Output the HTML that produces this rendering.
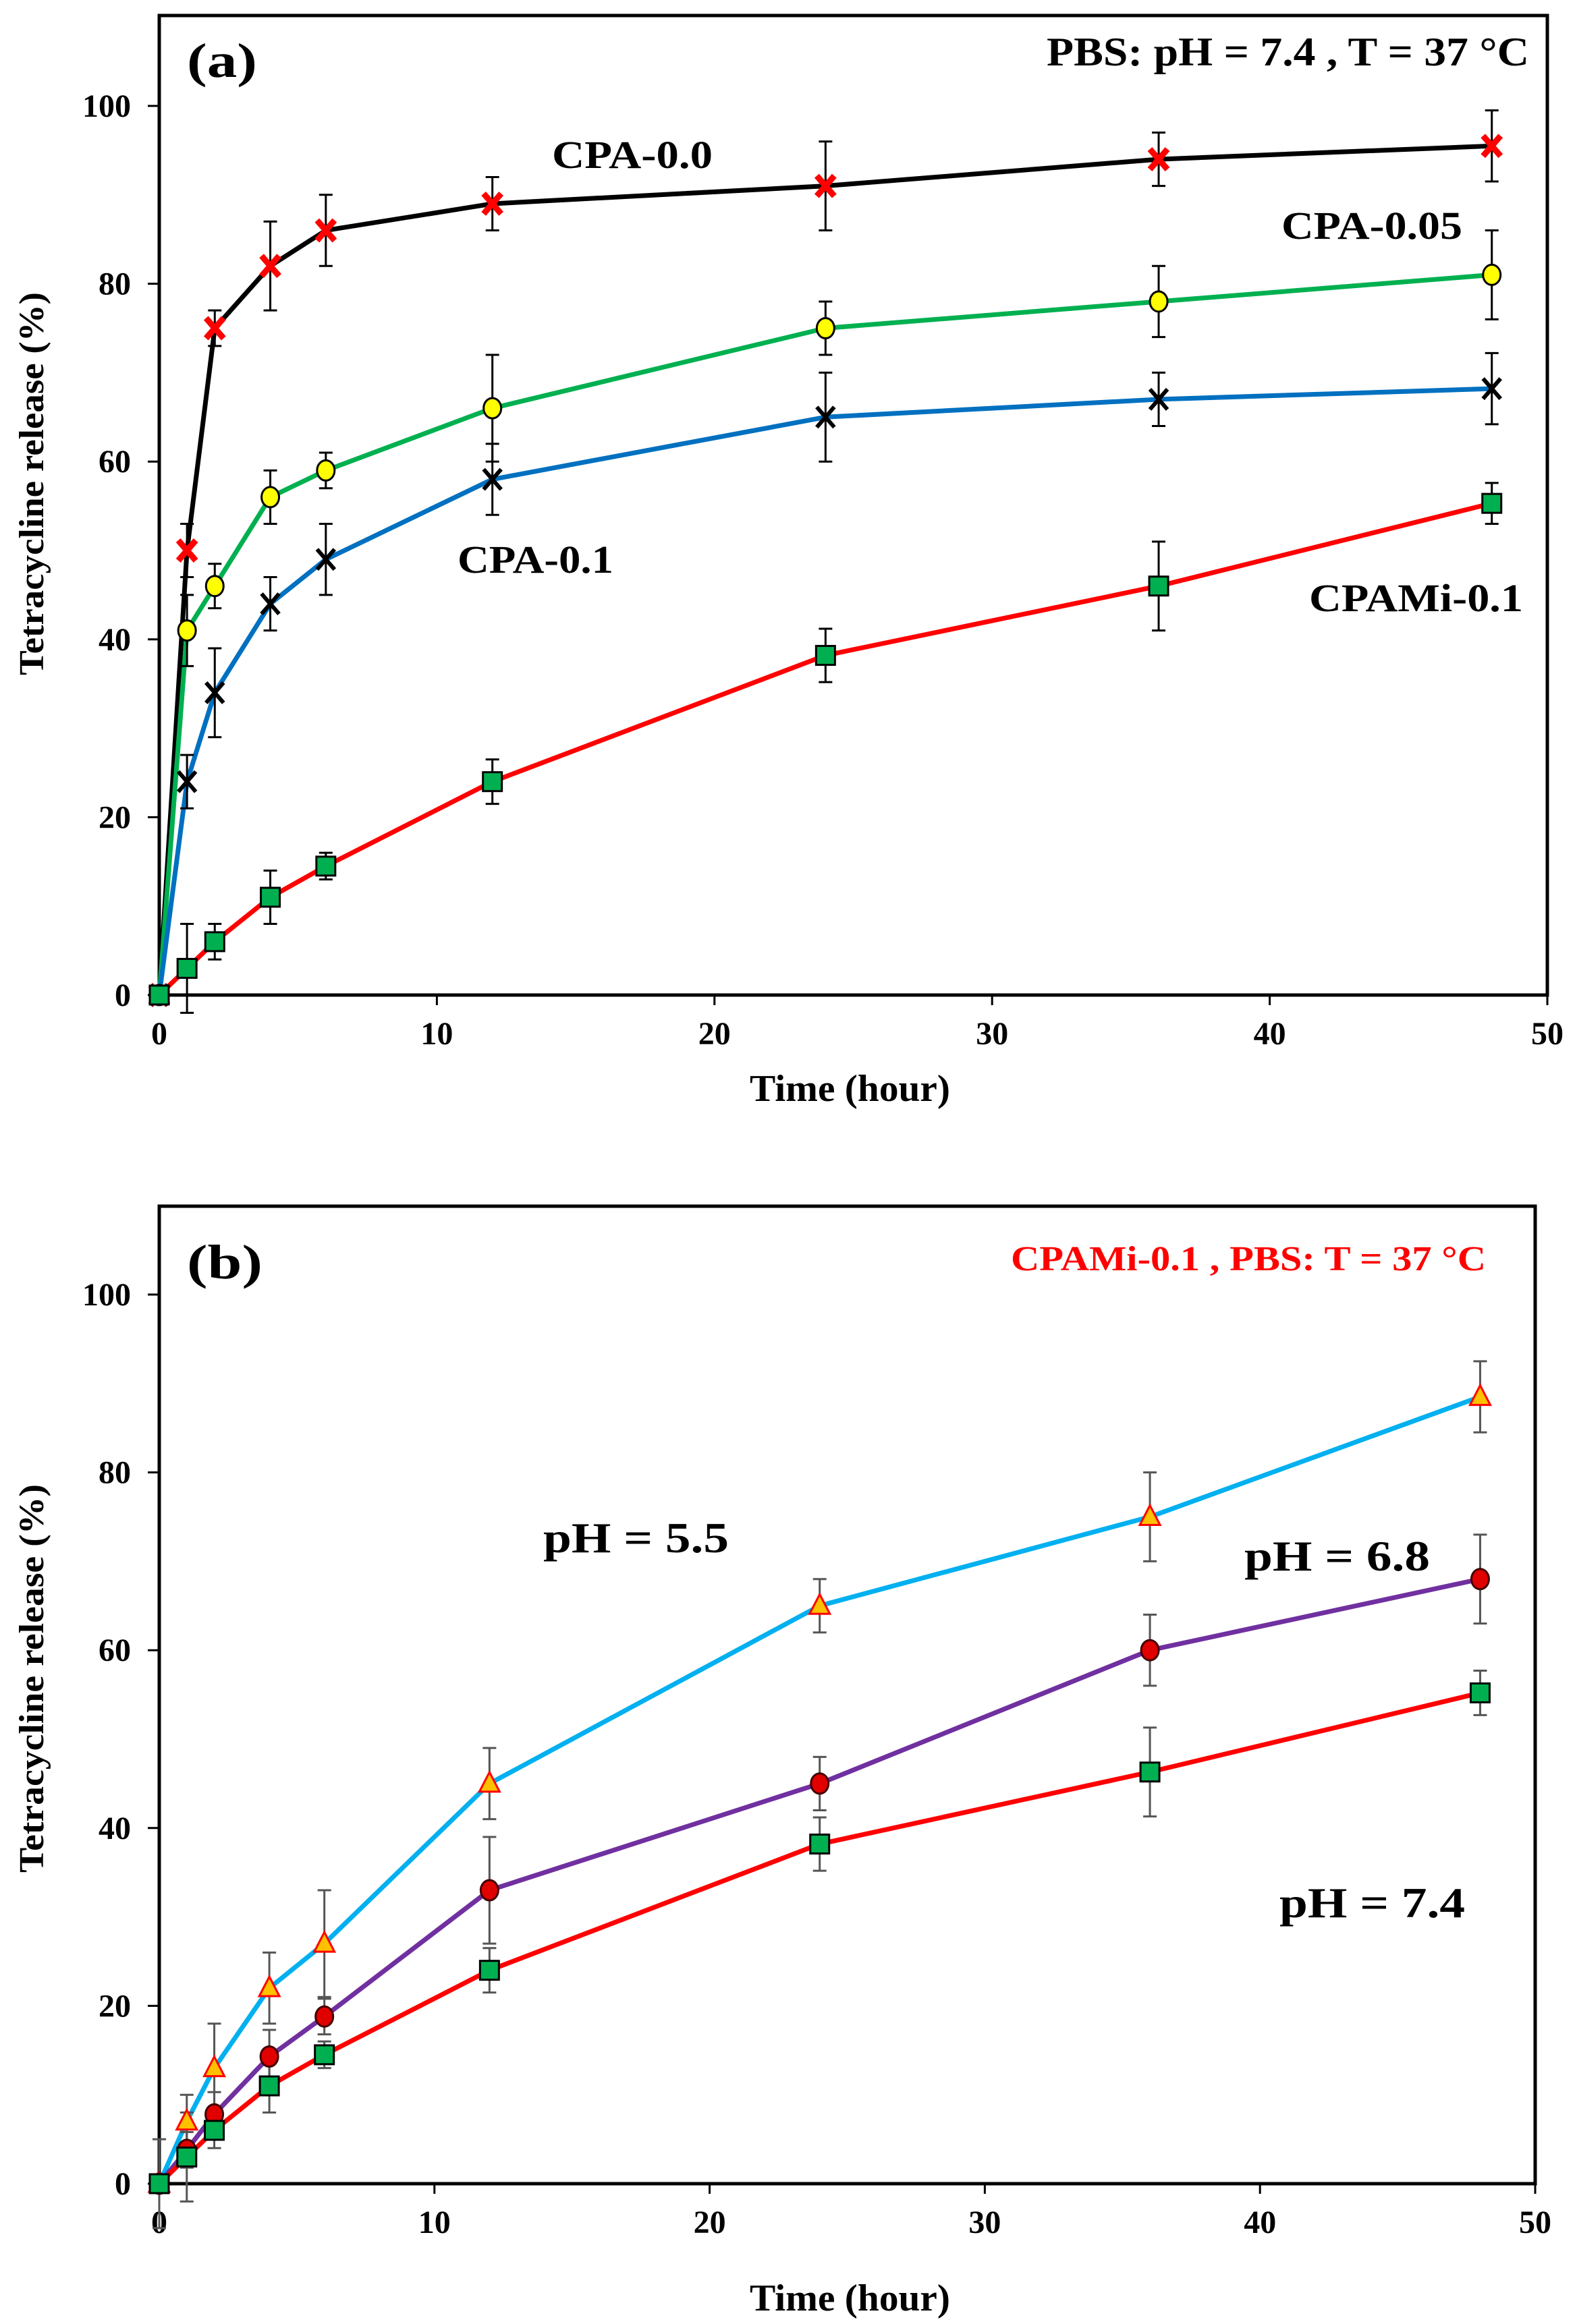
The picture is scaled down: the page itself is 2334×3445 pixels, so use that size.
<!DOCTYPE html>
<html><head><meta charset="utf-8">
<style>
html,body{margin:0;padding:0;background:#fff;}
svg{display:block;}
text{font-family:"Liberation Serif",serif;font-weight:bold;}
</style></head>
<body>
<svg id="fig" width="2334" height="3445" viewBox="0 0 2334 3445" xmlns="http://www.w3.org/2000/svg">
<rect width="2334" height="3445" fill="#fff"/>
</svg>
<script>
const hours = [0,1,2,4,6,12,24,36,48];
const xTicks = [0,10,20,30,40,50];
const yTicks = [0,20,40,60,80,100];
// panel a
const cpa00 = [0,50,75,82,86,89,91,94,95.5];
const cpa00Err = [0,3,2,5,4,3,5,3,4];
const cpa005 = [0,41,46,56,59,66,75,78,81];
const cpa005Err = [0,4,2.5,3,2,6,3,4,5];
const cpa01 = [0,24,34,44,49,58,65,67,68.2];
const cpa01Err = [0,3,5,3,4,4,5,3,4];
const cpami01 = [0,3,6,11,14.5,24,38.2,46,55.3];
const cpami01Err = [0,5,2,3,1.5,2.5,3,5,2.3];
// panel b
const ph55 = [0,7,13,22,27,45,65,75,88.5];
const ph55Err = [5,3,5,4,6,4,3,5,4];
const ph68 = [0,3.8,7.8,14.3,18.8,33,45,60,68];
const ph68Err = [0,2,2.5,3,2,6,3,4,5];
const ph74 = [0,3,6,11,14.5,24,38.2,46.3,55.2];
const ph74Err = [0,5,2,3,1.5,2.5,3,5,2.5];

const NS = "http://www.w3.org/2000/svg";
const svg = document.getElementById('fig');
function mk(tag, attrs, parent, txt){
  const e = document.createElementNS(NS, tag);
  for (const k in attrs) e.setAttribute(k, attrs[k]);
  if (txt !== undefined) e.textContent = txt;
  (parent||svg).appendChild(e);
  return e;
}

function panel(cfg){
  const g = mk('g', {});
  
  
  const X = v => cfg.x0 + (v/50)*(cfg.x1-cfg.x0);
  const Y = v => cfg.y0 - (v/100)*(cfg.y0-cfg.y100);
  const yTop = cfg.yTop;
  // frame
  const fr = mk('rect', {x:cfg.x0, y:yTop, width:cfg.x1-cfg.x0, height:cfg.y0-yTop, fill:'none', stroke:'#000', 'stroke-width':5}, g);
  
  
  // ticks
  xTicks.forEach(t=>{
    const tk = mk('line', {x1:X(t), x2:X(t), y1:cfg.y0, y2:cfg.y0+15, stroke:'#000', 'stroke-width':3}, g);
    
    
    const tl = mk('text', {x:X(t), y:cfg.y0+73, 'font-size':48, 'text-anchor':'middle'}, g, String(t));
    
    
  });
  yTicks.forEach(t=>{
    const tk = mk('line', {x1:cfg.x0-17, x2:cfg.x0, y1:Y(t), y2:Y(t), stroke:'#000', 'stroke-width':3}, g);
    
    
    const tl = mk('text', {x:cfg.x0-42, y:Y(t)+16, 'font-size':48, 'text-anchor':'end'}, g, String(t));
    
    
  });
  const xt = mk('text', {x:1111, y:cfg.xTitleY, 'font-size':56, textLength:297, lengthAdjust:'spacingAndGlyphs'}, g, 'Time  (hour)');
  
  
  const yt = mk('text', {x:0, y:0, 'font-size':52, 'text-anchor':'middle', transform:`translate(64,${cfg.yTitleC}) rotate(-90)`, textLength:cfg.yTitleLen, lengthAdjust:'spacingAndGlyphs'}, g, 'Tetracycline  release  (%)');
  
  

  // series: lines first, then error bars & markers
  cfg.series.forEach(s=>{
    const pts = hours.map((h,i)=>X(h)+','+Y(s.vals[i])).join(' ');
    const pl = mk('polyline', {points:pts, fill:'none', stroke:s.color, 'stroke-width':7, 'stroke-linejoin':'round'}, g);
    
    
  });
  cfg.series.forEach(s=>{
    hours.forEach((h,i)=>{
      const e = s.err[i];
      if (e>0){
        const eb = mk('path', {d:`M${X(h)},${Y(s.vals[i]+e)}V${Y(s.vals[i]-e)}M${X(h)-10},${Y(s.vals[i]+e)}h20M${X(h)-10},${Y(s.vals[i]-e)}h20`, stroke:cfg.errColor, 'stroke-width':3, fill:'none'}, g);
        
        
      }
    });
  });
  cfg.series.forEach(s=>{
    hours.forEach((h,i)=>{
      const cx = X(h), cy = Y(s.vals[i]);
      let m;
      if (s.marker==='sq') m = mk('rect', {x:cx-14, y:cy-14, width:28, height:28, fill:'#00b050', stroke:'#000', 'stroke-width':3}, g);
      else if (s.marker==='circ') m = mk('ellipse', {cx:cx, cy:cy, rx:13, ry:15, fill:s.fill, stroke:s.edge, 'stroke-width':3}, g);
      else if (s.marker==='tri') m = mk('polygon', {points:`${cx},${cy-17} ${cx-15},${cy+12} ${cx+15},${cy+12}`, fill:'#ffc000', stroke:'#ff0000', 'stroke-width':3}, g);
      else if (s.marker==='x') m = mk('path', {d:`M${cx-13},${cy-15}L${cx+13},${cy+15}M${cx+13},${cy-15}L${cx-13},${cy+15}`, stroke:s.fill, 'stroke-width':s.fill==='#000'?6:9, fill:'none'}, g);
      
      
    });
  });
  cfg.labels.forEach(l=>{
    const t = mk('text', {x:l.x, y:l.y, 'font-size':l.fs, fill:l.color||'#000', textLength:l.w, lengthAdjust:'spacingAndGlyphs'}, g, l.t);
    
    
  });
}

panel({name:'panel-a', x0:236, x1:2293, y0:1475, y100:157, yTop:23, xTitleY:1632, yTitleC:717, yTitleLen:568, errColor:'#000',
  series:[
    {id:'cpa-0-0', vals:cpa00, err:cpa00Err, color:'#000', marker:'x', fill:'#ff0000'},
    {id:'cpa-0-05', vals:cpa005, err:cpa005Err, color:'#00b050', marker:'circ', fill:'#ffff00', edge:'#000'},
    {id:'cpa-0-1', vals:cpa01, err:cpa01Err, color:'#0070c0', marker:'x', fill:'#000'},
    {id:'cpami-0-1', vals:cpami01, err:cpami01Err, color:'#ff0000', marker:'sq'}
  ],
  labels:[
    {t:'(a)', x:277, y:114, fs:72, w:104, name:'panel-a-letter'},
    {t:'PBS: pH = 7.4 , T = 37 °C', x:1551, y:97, fs:60, w:715, name:'panel-a-condition'},
    {t:'CPA-0.0', x:818, y:249, fs:58, w:238, name:'label-cpa-0-0'},
    {t:'CPA-0.05', x:1899, y:354, fs:58, w:268, name:'label-cpa-0-05'},
    {t:'CPA-0.1', x:678, y:849, fs:58, w:231, name:'label-cpa-0-1'},
    {t:'CPAMi-0.1', x:1940, y:906, fs:58, w:317, name:'label-cpami-0-1'}
  ]});

panel({name:'panel-b', x0:236, x1:2275, y0:3237, y100:1919, yTop:1788, xTitleY:3425, yTitleC:2488, yTitleLen:576, errColor:'#555',
  series:[
    {id:'ph-5-5', vals:ph55, err:ph55Err, color:'#00b0f0', marker:'tri'},
    {id:'ph-6-8', vals:ph68, err:ph68Err, color:'#7030a0', marker:'circ', fill:'#e00000', edge:'#400'},
    {id:'ph-7-4', vals:ph74, err:ph74Err, color:'#ff0000', marker:'sq'}
  ],
  labels:[
    {t:'(b)', x:277, y:1895, fs:72, w:112, name:'panel-b-letter'},
    {t:'CPAMi-0.1 , PBS: T = 37 °C', x:1498, y:1883, fs:52, w:704, color:'#ff0000', name:'panel-b-condition'},
    {t:'pH = 5.5', x:805, y:2301, fs:64, w:275, name:'label-ph-5-5'},
    {t:'pH = 6.8', x:1844, y:2328, fs:64, w:275, name:'label-ph-6-8'},
    {t:'pH = 7.4', x:1896, y:2842, fs:64, w:275, name:'label-ph-7-4'}
  ]});
</script>
</body></html>
